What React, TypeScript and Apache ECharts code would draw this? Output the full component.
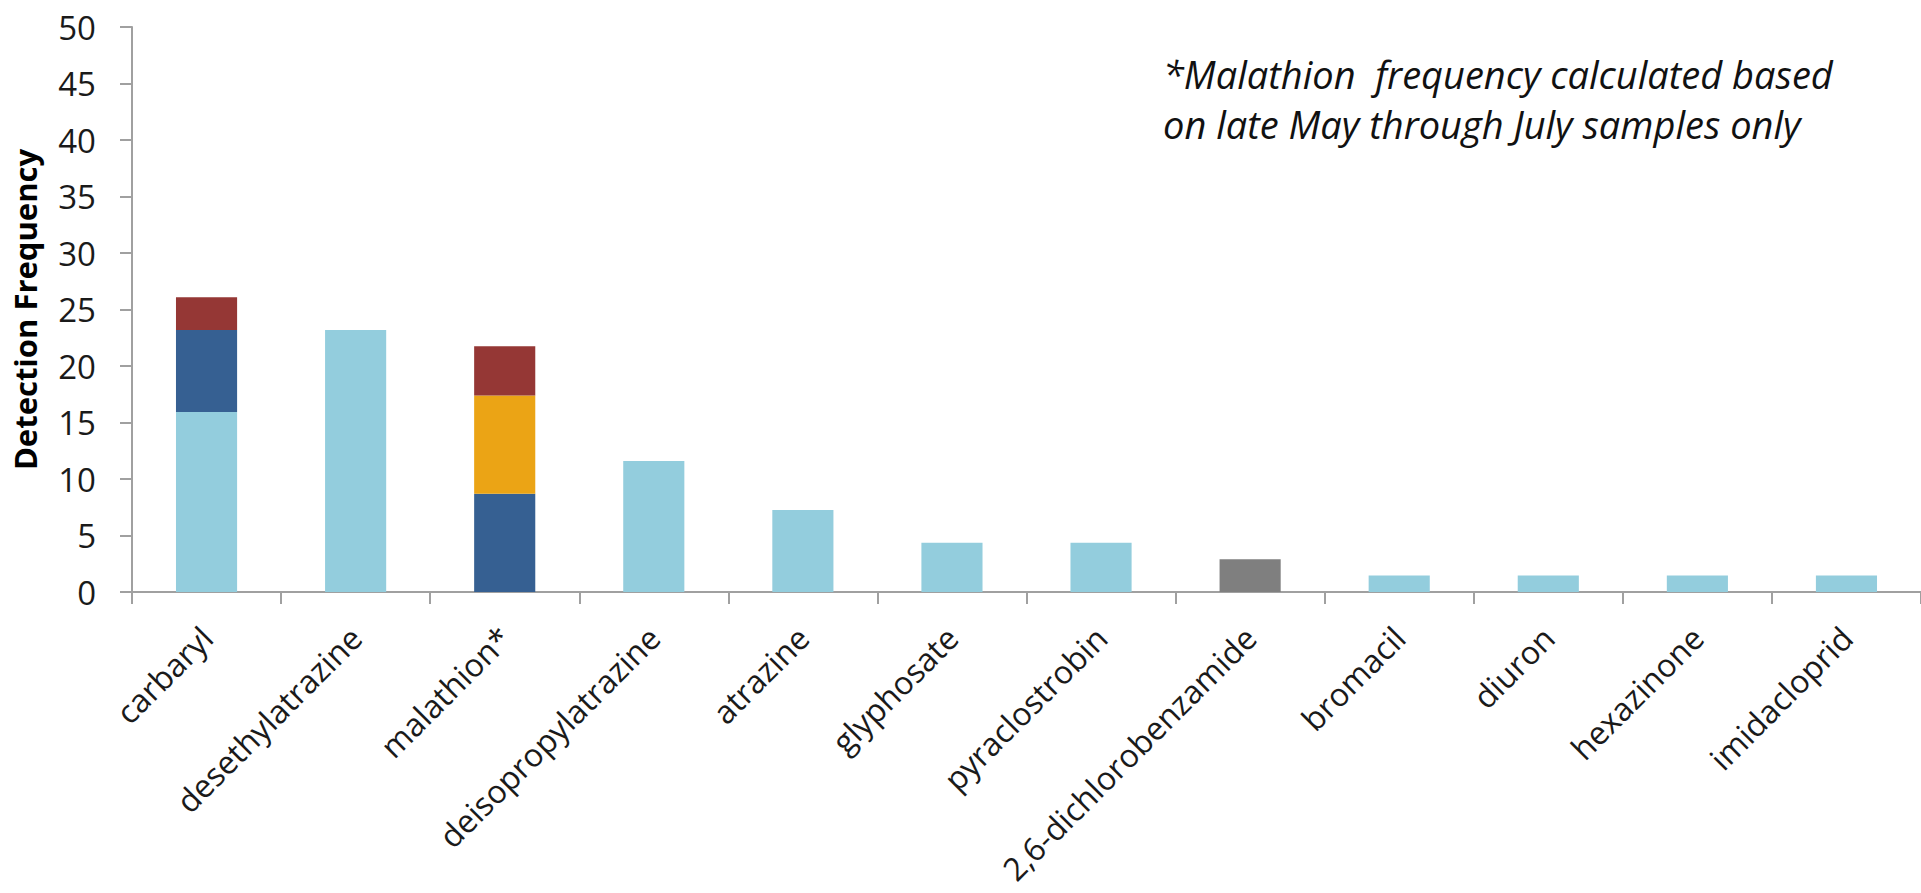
import React, { useEffect, useRef } from "react";
import * as echarts from "echarts";

const categories = [
  "carbaryl",
  "desethylatrazine",
  "malathion*",
  "deisopropylatrazine",
  "atrazine",
  "glyphosate",
  "pyraclostrobin",
  "2,6-dichlorobenzamide",
  "bromacil",
  "diuron",
  "hexazinone",
  "imidacloprid",
];

const lightBlueValues = [15.94, 23.19, null, 11.59, 7.25, 4.35, 4.35, null, 1.45, 1.45, 1.45, 1.45];
const darkBlueValues = [7.25, null, 8.7, null, null, null, null, null, null, null, null, null];
const orangeValues = [null, null, 8.7, null, null, null, null, null, null, null, null, null];
const redValues = [2.9, null, 4.35, null, null, null, null, null, null, null, null, null];
const grayValues = [null, null, null, null, null, null, null, 2.9, null, null, null, null];

const yTicks = { min: 0, max: 50, interval: 5 };
const yAxisTitle = "Detection Frequency";
const noteLines = [
  "*Malathion  frequency calculated based",
  "on late May through July samples only",
];

const FONT = "'Open Sans', 'DejaVu Sans', sans-serif";

export default function App() {
  const ref = useRef<HTMLDivElement>(null);

  useEffect(() => {
    if (!ref.current) return;
    const chart = echarts.init(ref.current, null, { renderer: "svg" });
    const mk = (name: string, data: (number | null)[], color: string) => ({
      name,
      type: "bar",
      stack: "total",
      data: data.map((v) => (v === null ? "-" : v)),
      barWidth: "41%",
      itemStyle: { color },
    });
    chart.setOption({
      animation: false,
      backgroundColor: "#ffffff",
      textStyle: { fontFamily: FONT },
      grid: { left: 132, right: 0, top: 27, bottom: 301 },
      xAxis: {
        type: "category",
        data: categories,
        axisLine: { lineStyle: { color: "#a0a0a0", width: 2 } },
        axisTick: { show: true, length: 12, lineStyle: { color: "#a0a0a0", width: 2 } },
        axisLabel: {
          rotate: 45,
          margin: 40,
          fontSize: 32,
          fontFamily: FONT,
          color: "#1a1a1a",
          interval: 0,
        },
      },
      yAxis: {
        type: "value",
        min: yTicks.min,
        max: yTicks.max,
        interval: yTicks.interval,
        name: yAxisTitle,
        nameLocation: "middle",
        nameGap: 92,
        nameRotate: 90,
        nameTextStyle: { fontSize: 31, fontWeight: "bold", color: "#000", fontFamily: FONT },
        splitLine: { show: false },
        axisLine: { show: true, lineStyle: { color: "#a0a0a0", width: 2 } },
        axisTick: { show: true, length: 12, lineStyle: { color: "#a0a0a0", width: 2 } },
        axisLabel: { fontSize: 33, margin: 36, color: "#1a1a1a", fontFamily: FONT },
      },
      graphic: [
        {
          type: "text",
          left: 1163,
          top: 49,
          style: {
            text: noteLines.join("\n"),
            font: `italic 38px ${FONT}`,
            lineHeight: 50,
            fill: "#111",
          },
        },
      ],
      series: [
        mk("lightblue", lightBlueValues, "#93cddd"),
        mk("darkblue", darkBlueValues, "#366092"),
        mk("orange", orangeValues, "#eba415"),
        mk("red", redValues, "#953735"),
        mk("gray", grayValues, "#7f7f7f"),
      ],
    });
    return () => chart.dispose();
  }, []);

  return (
    <div
      ref={ref}
      style={{ position: "fixed", left: 0, top: 0, width: "1921px", height: "893px" }}
    />
  );
}
